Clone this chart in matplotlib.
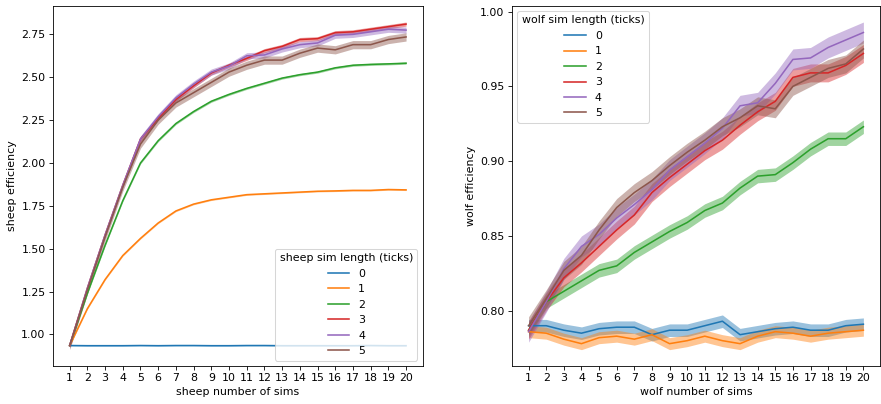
import matplotlib
matplotlib.use("Agg")
import matplotlib.pyplot as plt
import numpy as np

plt.rcParams['font.size'] = 10.5

# number of sims on the x axis
sims = list(range(1, 21))
sim_lengths = ["0", "1", "2", "3", "4", "5"]

# sheep efficiency, one list per sim length (ticks)
sheep_0 = [0.935, 0.934, 0.934, 0.934, 0.935, 0.934, 0.935, 0.935, 0.934, 0.934,
           0.935, 0.935, 0.934, 0.934, 0.934, 0.934, 0.934, 0.935, 0.934, 0.934]
sheep_1 = [0.935, 1.150, 1.320, 1.460, 1.560, 1.650, 1.720, 1.760, 1.785, 1.800,
           1.815, 1.820, 1.825, 1.830, 1.835, 1.837, 1.840, 1.840, 1.845, 1.843]
sheep_2 = [0.935, 1.240, 1.520, 1.780, 2.000, 2.130, 2.230, 2.300, 2.360, 2.400,
           2.435, 2.465, 2.495, 2.515, 2.530, 2.555, 2.570, 2.575, 2.578, 2.582]
sheep_3 = [0.935, 1.270, 1.580, 1.870, 2.140, 2.260, 2.370, 2.450, 2.525, 2.570,
           2.610, 2.655, 2.680, 2.720, 2.725, 2.760, 2.765, 2.780, 2.795, 2.810]
sheep_4 = [0.935, 1.270, 1.580, 1.870, 2.140, 2.270, 2.380, 2.460, 2.530, 2.565,
           2.625, 2.630, 2.665, 2.690, 2.700, 2.745, 2.750, 2.765, 2.780, 2.775]
sheep_5 = [0.935, 1.260, 1.570, 1.860, 2.110, 2.250, 2.350, 2.410, 2.470, 2.530,
           2.570, 2.600, 2.600, 2.640, 2.670, 2.660, 2.690, 2.690, 2.720, 2.735]
# confidence band half widths
sheep_ci = [0.002, 0.004, 0.006, 0.012, 0.018, 0.024]

# wolf efficiency
wolf_0 = [0.790, 0.790, 0.787, 0.785, 0.788, 0.789, 0.789, 0.784, 0.787, 0.787,
          0.790, 0.793, 0.784, 0.786, 0.788, 0.789, 0.787, 0.787, 0.790, 0.791]
wolf_1 = [0.786, 0.785, 0.781, 0.778, 0.782, 0.783, 0.781, 0.784, 0.778, 0.780,
          0.783, 0.780, 0.778, 0.783, 0.786, 0.785, 0.783, 0.785, 0.786, 0.787]
wolf_2 = [0.787, 0.806, 0.813, 0.820, 0.827, 0.830, 0.839, 0.846, 0.853, 0.859,
          0.867, 0.872, 0.882, 0.890, 0.891, 0.899, 0.908, 0.915, 0.915, 0.923]
wolf_3 = [0.787, 0.806, 0.822, 0.832, 0.843, 0.854, 0.864, 0.879, 0.889, 0.898,
          0.907, 0.914, 0.924, 0.933, 0.940, 0.956, 0.959, 0.959, 0.964, 0.972]
wolf_4 = [0.786, 0.806, 0.828, 0.843, 0.851, 0.862, 0.871, 0.881, 0.894, 0.903,
          0.912, 0.922, 0.937, 0.939, 0.952, 0.968, 0.969, 0.976, 0.981, 0.986]
wolf_5 = [0.790, 0.808, 0.827, 0.837, 0.854, 0.869, 0.879, 0.887, 0.897, 0.906,
          0.914, 0.923, 0.929, 0.937, 0.935, 0.950, 0.956, 0.962, 0.965, 0.975]
wolf_ci = [0.0042, 0.004, 0.0045, 0.006, 0.007, 0.006]

sheep = [sheep_0, sheep_1, sheep_2, sheep_3, sheep_4, sheep_5]
wolf = [wolf_0, wolf_1, wolf_2, wolf_3, wolf_4, wolf_5]
colors = plt.rcParams['axes.prop_cycle'].by_key()['color'][:6]

fig = plt.figure(figsize=(881 / 75, 404 / 75), dpi=75)
ax1 = fig.add_axes([0.060, 0.094, 0.420, 0.892])
ax2 = fig.add_axes([0.581, 0.094, 0.418, 0.892])


def draw(ax, series, cis):
    for vals, ci, col, lab in zip(series, cis, colors, sim_lengths):
        v = np.array(vals)
        ax.fill_between(sims, v - ci, v + ci, color=col, alpha=0.45, linewidth=0)
        ax.plot(sims, v, color=col, linewidth=1.5, label=lab)
    ax.set_xticks(sims)


draw(ax1, sheep, sheep_ci)
ax1.set_xlabel("sheep number of sims")
ax1.set_ylabel("sheep efficiency")
ax1.set_yticks([1.0, 1.25, 1.5, 1.75, 2.0, 2.25, 2.5, 2.75])
ax1.legend(title="sheep sim length (ticks)", loc="lower right")

draw(ax2, wolf, wolf_ci)
ax2.set_xlabel("wolf number of sims")
ax2.set_ylabel("wolf efficiency")
ax2.set_yticks([0.80, 0.85, 0.90, 0.95, 1.00])
ax2.legend(title="wolf sim length (ticks)", loc="upper left")

fig.savefig("out.png", dpi=75)
